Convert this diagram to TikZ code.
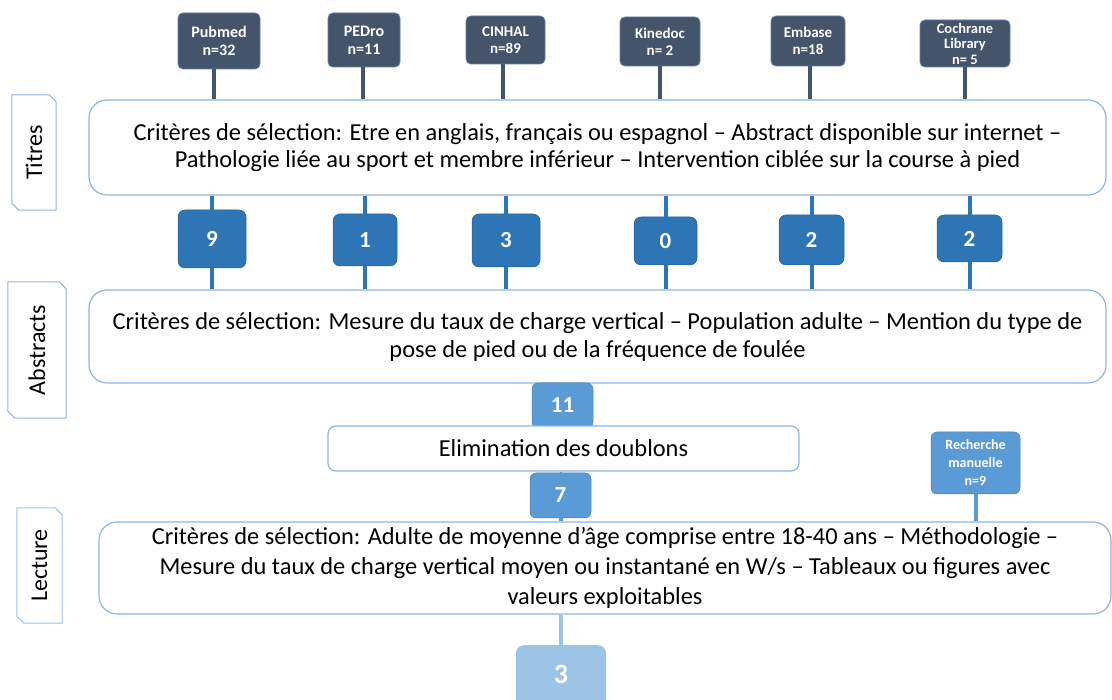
\documentclass[tikz,border=0pt]{standalone}
\usepackage{fontspec}
\setmainfont{Carlito}
\definecolor{dark}{HTML}{44546A}
\definecolor{darkborder}{HTML}{5F7FA6}
\definecolor{blueA}{HTML}{2E75B6}
\definecolor{blueB}{HTML}{5B9BD5}
\definecolor{blueC}{HTML}{9DC3E6}
\definecolor{frame}{HTML}{8DB4E2}
\begin{document}
\begin{tikzpicture}[x=1pt,y=-1pt,
  srcbox/.style={fill=dark,draw=darkborder,line width=0.8pt,rounded corners=5pt,text=white,
    font=\bfseries\fontsize{16}{18}\selectfont,align=center,inner sep=0pt},
  numbox/.style={fill=blueA,draw=blueA!80!black,line width=0.5pt,rounded corners=7pt,text=white,
    font=\bfseries\fontsize{23}{26}\selectfont,inner sep=0pt},
  midbox/.style={fill=blueB,draw=blueB!80!black,line width=0.5pt,rounded corners=6pt,text=white,
    font=\bfseries\fontsize{23}{26}\selectfont,inner sep=0pt},
  bigbox/.style={draw=frame,line width=1.2pt,rounded corners=18pt,fill=white,align=center,
    font=\fontsize{24.4}{27}\selectfont,inner sep=0pt},
  tab/.style={rectangle,inner sep=0pt},
  taboutline/.style={draw=frame,line width=1pt},
  tabtext/.style={rotate=90,font=\fontsize{24}{26}\selectfont},
  darkline/.style={draw=dark,line width=4pt},
  blueline/.style={draw=blueA,line width=4pt},
  midline/.style={draw=blueB,line width=4pt},
  lightline/.style={draw=blueC,line width=4pt}
]
\useasboundingbox (0,0) rectangle (1112,700);

% side tabs
\node[tab,minimum width=44pt,minimum height=115pt,label={[tabtext]center:Titres}] (tabT) at (34,152.5) {};
\node[tab,minimum width=58pt,minimum height=136pt,label={[tabtext]center:Abstracts}] (tabA) at (37,350) {};
\node[tab,minimum width=45pt,minimum height=115pt,label={[tabtext]center:Lecture}] (tabL) at (39.5,565.5) {};
\foreach \t/\c in {tabT/frame,tabA/frame,tabL/blueC}{
  \draw[taboutline,draw=\c] (\t.north west) -- ([xshift=-7pt]\t.north east) -- ([yshift=-7pt]\t.north east)
     -- (\t.south east) -- ([xshift=7pt]\t.south west) -- ([yshift=7pt]\t.south west) -- cycle;
}

% source boxes
\node[srcbox,minimum width=82pt,minimum height=56pt] (pub) at (219,41) {Pubmed\\n=32};
\node[srcbox,minimum width=72pt,minimum height=54pt] (ped) at (364,40) {PEDro\\n=11};
\node[srcbox,minimum width=79pt,minimum height=48pt,font=\bfseries\fontsize{15}{17}\selectfont] (cin) at (505.5,40) {CINHAL\\n=89};
\node[srcbox,minimum width=80pt,minimum height=49pt,font=\bfseries\fontsize{15}{17}\selectfont] (kin) at (660,41.5) {Kinedoc\\n= 2};
\node[srcbox,minimum width=74pt,minimum height=50pt,font=\bfseries\fontsize{15}{17}\selectfont] (emb) at (808,41) {Embase\\n=18};
\node[srcbox,minimum width=90pt,minimum height=47pt,font=\bfseries\fontsize{14.5}{15.5}\selectfont] (coc) at (965,43.5) {Cochrane\\Library\\n= 5};

% Titres box
\node[bigbox,minimum width=1017pt,minimum height=95pt] (tit) at (597.5,147.5)
 {Critères de sélection: Etre en anglais, français ou espagnol – Abstract disponible sur internet –\\
  Pathologie liée au sport et membre inférieur – Intervention ciblée sur la course à pied};

% Abstracts box
\node[bigbox,minimum width=1017pt,minimum height=93pt,font=\fontsize{24.4}{28}\selectfont] (abs) at (597.5,336.5)
 {Critères de sélection: Mesure du taux de charge vertical – Population adulte – Mention du type de\\
  pose de pied ou de la fréquence de foulée};

% Lecture box
\node[bigbox,minimum width=1012pt,minimum height=92pt,font=\fontsize{24.4}{30}\selectfont] (lec) at (605,568)
 {Critères de sélection: Adulte de moyenne d’âge comprise entre 18-40 ans – Méthodologie –\\
  Mesure du taux de charge vertical moyen ou instantané en W/s – Tableaux ou figures avec\\
  valeurs exploitables};

% connectors source -> Titres
\foreach \s/\x in {pub/214,ped/363,cin/503,kin/660,emb/810,coc/965}{
  \draw[darkline] (\x,0 |- \s.south) -- (\x,0 |- tit.north);
}

% number boxes
\node[numbox,minimum width=68pt,minimum height=58pt] (n1) at (212,239) {9};
\node[numbox,minimum width=64pt,minimum height=52pt] (n2) at (365,240) {1};
\node[numbox,minimum width=68pt,minimum height=53pt] (n3) at (506,240.5) {3};
\node[numbox,minimum width=63pt,minimum height=48pt] (n4) at (665.5,241) {0};
\node[numbox,minimum width=65pt,minimum height=50pt] (n5) at (811.5,240) {2};
\node[numbox,minimum width=65pt,minimum height=47pt] (n6) at (969.5,238.5) {2};
\foreach \n in {n1,n2,n3,n4,n5,n6}{
  \draw[blueline] (\n.north |- tit.south) -- (\n.north);
  \draw[blueline] (\n.south) -- (\n.south |- abs.north);
}

% 11, elimination, 7
\node[midbox,minimum width=61pt,minimum height=45pt] (e11) at (562.5,405.5) {11};
\node[draw=frame,line width=1.2pt,rounded corners=8pt,fill=white,minimum width=471pt,minimum height=45pt,
  font=\fontsize{24.4}{26}\selectfont,inner sep=0pt] (eli) at (563.5,448.5) {Elimination des doublons};
\node[midbox,minimum width=61pt,minimum height=45pt] (e7) at (560.5,495.5) {7};
\draw[draw=blueB,line width=2pt] (e7.north |- eli.south) -- (e7.north);
\draw[midline] (e7.south) -- (e7.south |- lec.north);

% Recherche manuelle
\node[midbox,minimum width=89pt,minimum height=62pt,font=\bfseries\fontsize{14}{18}\selectfont,align=center] (rec) at (975.5,463)
 {Recherche\\manuelle\\n=9};
\draw[midline] (rec.south) -- (rec.south |- lec.north);

% final 3
\node[fill=blueC,rounded corners=8pt,minimum width=90pt,minimum height=64pt,text=white,
  font=\bfseries\fontsize{28}{30}\selectfont,inner sep=0pt,anchor=north] (f3) at (561,645) {};
\node[text=white,font=\bfseries\fontsize{28}{30}\selectfont] (f3t) at (561,674) {3};
\draw[lightline] (f3.north |- lec.south) -- (f3.north);
\end{tikzpicture}
\end{document}
